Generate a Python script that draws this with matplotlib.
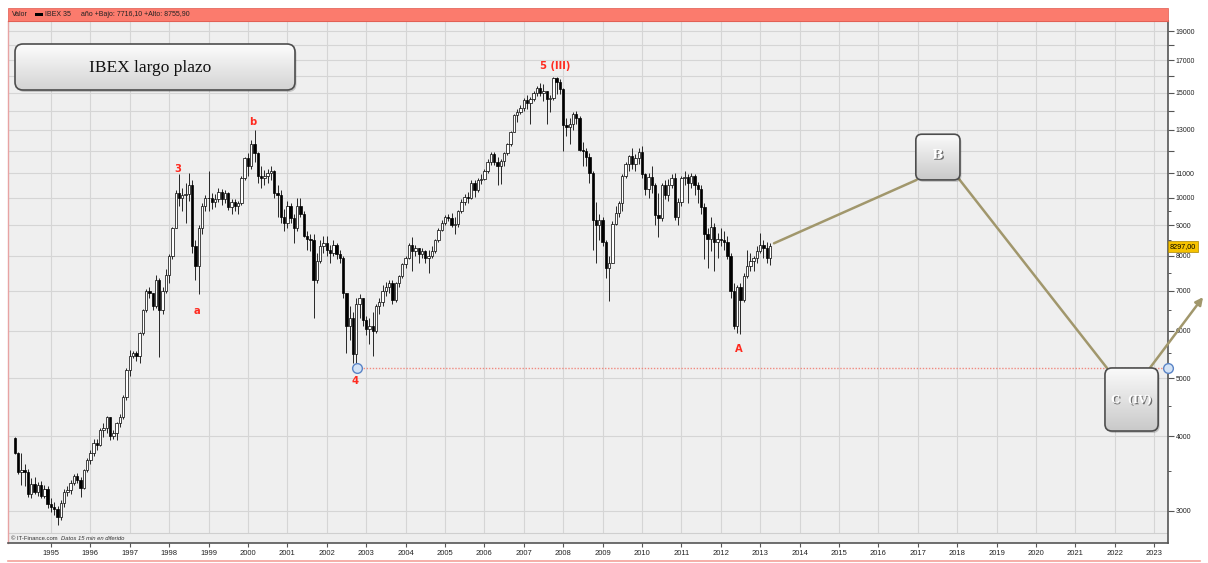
import numpy as np
import pandas as pd
import matplotlib
matplotlib.use('Agg')
import matplotlib.pyplot as plt
import matplotlib.ticker as mticker
import matplotlib.transforms as mtransforms
import matplotlib.patheffects as pe
from matplotlib.patches import FancyBboxPatch, Rectangle
from matplotlib.colors import LinearSegmentedColormap

# IBEX 35 monthly candles, Feb 1994 - Apr 2013
first_open = 3970
closes = [
    3750, 3490, 3510, 3490, 3200, 3330, 3230, 3310, 3180, 3270, 3080,            # 1994 (Feb-Dec)
    3050, 3020, 2930, 3090, 3230, 3250, 3340, 3430, 3380, 3280, 3510, 3650,      # 1995
    3750, 3900, 3860, 4100, 4120, 4300, 4000, 4050, 4200, 4300, 4650, 5150,      # 1996
    5450, 5500, 5450, 5950, 6500, 7000, 6950, 6600, 7300, 6500, 7000, 7450,      # 1997
    8000, 8900, 10200, 10000, 10100, 10150, 10500, 8300, 7700, 8900, 9700, 10000,  # 1998
    10000, 9850, 9950, 10250, 9950, 10200, 9650, 9850, 9700, 9800, 10800, 11650,   # 1999
    11300, 12300, 11900, 10900, 10800, 10900, 11000, 11100, 10200, 10100, 9300, 9100,  # 2000
    9700, 9250, 8900, 9700, 9400, 8650, 8550, 8500, 7300, 7850, 8300, 8400,      # 2001
    8200, 8100, 8350, 8050, 7950, 6950, 6100, 6300, 5480, 6650, 6800, 6250,      # 2002
    6050, 6100, 6000, 6600, 6700, 7000, 7100, 7200, 6750, 7200, 7400, 7750,      # 2003
    7950, 8350, 8150, 8250, 8050, 8150, 7950, 8000, 8150, 8500, 8850, 9100,      # 2004
    9300, 9250, 9000, 9050, 9500, 9850, 10050, 10000, 10600, 10300, 10700, 10750,  # 2005
    11100, 11500, 11850, 11500, 11300, 11550, 11900, 12300, 12900, 13750, 13900, 14150,  # 2006
    14600, 14400, 14650, 14950, 15250, 15000, 15100, 14650, 14700, 15850, 15650, 15200,  # 2007
    13250, 13150, 13300, 13800, 13600, 12050, 12000, 11700, 11000, 9200, 9000, 9200,   # 2008
    8450, 7650, 7800, 9050, 9450, 9800, 10900, 11400, 11750, 11400, 11650, 11950,     # 2009
    10950, 10350, 10850, 10500, 9350, 9250, 10500, 10100, 10500, 10800, 9300, 9850,   # 2010
    10800, 10850, 10600, 10900, 10500, 10350, 9650, 8700, 8550, 8950, 8450, 8550,     # 2011
    8500, 8450, 8000, 7000, 6100, 7100, 6750, 7400, 7700, 7850, 7950, 8150,          # 2012
    8350, 8250, 7950, 8300,                                                          # 2013
]
highs = [
    3990, 3770, 3750, 3600, 3530, 3400, 3420, 3350, 3360, 3320, 3300,
    3150, 3100, 3060, 3130, 3260, 3300, 3380, 3460, 3470, 3420, 3520, 3680,
    3800, 3950, 3950, 4120, 4200, 4320, 4300, 4100, 4230, 4350, 4680, 5200,
    5570, 5560, 5550, 5970, 6520, 7050, 7100, 6850, 7450, 7350, 7100, 7600,
    8050, 8950, 10300, 10950, 10400, 10600, 11000, 10700, 8500, 9000, 9800, 10100,
    11100, 10200, 10150, 10400, 10350, 10300, 10250, 9950, 9950, 9900, 10900, 11700,
    11900, 12500, 12990, 11950, 11300, 11150, 11200, 11300, 11150, 10500, 10300, 9600,
    9900, 9800, 9400, 10000, 10000, 9500, 8800, 8700, 8700, 8100, 8500, 8650,
    8650, 8350, 8500, 8400, 8200, 8000, 6950, 6600, 6450, 6800, 6900, 6800,
    6350, 6300, 6450, 6650, 6800, 7150, 7250, 7300, 7300, 7250, 7450, 7800,
    8000, 8400, 8600, 8350, 8250, 8250, 8200, 8200, 8300, 8550, 8900, 9200,
    9350, 9400, 9450, 9300, 9550, 9950, 10150, 10250, 10700, 10700, 10800, 10950,
    11200, 11600, 11950, 11950, 11700, 11600, 11950, 12350, 12950, 13800, 14100, 14300,
    14700, 14850, 14750, 15100, 15400, 15550, 15500, 15100, 14850, 15900, 15950, 15800,
    15250, 13600, 13600, 13900, 14000, 13700, 12400, 12100, 11900, 11100, 9850, 9400,
    9300, 8500, 8000, 9150, 9700, 9900, 10950, 11500, 11800, 12100, 11850, 12100,
    12200, 11000, 11000, 11300, 10600, 10200, 10600, 10700, 10750, 10950, 11000, 10000,
    10900, 11100, 10950, 11000, 10950, 10650, 10500, 9800, 8900, 9300, 9100, 8750,
    8900, 8800, 8650, 8100, 7200, 7150, 7200, 7500, 8200, 8100, 8000, 8300,
    8750, 8500, 8450, 8400,
]
lows = [
    3740, 3460, 3310, 3300, 3170, 3150, 3200, 3180, 3150, 3150, 3040,
    2990, 2950, 2840, 2900, 3050, 3180, 3200, 3320, 3340, 3160, 3260, 3480,
    3600, 3700, 3800, 3850, 3980, 4050, 3940, 3950, 3940, 4150, 4280, 4600,
    5050, 5400, 5350, 5300, 5900, 6450, 6800, 6500, 6550, 5420, 6400, 6950,
    7200, 7900, 8900, 9700, 9500, 9100, 9900, 8100, 7300, 6900, 8700, 9500,
    9500, 9600, 9650, 9850, 9750, 9800, 9550, 9400, 9500, 9400, 9750, 10700,
    10900, 11200, 11500, 10600, 10400, 10500, 10600, 10700, 10000, 9300, 9100, 8800,
    8900, 9100, 8400, 8800, 9300, 8600, 8200, 8150, 6300, 7200, 7800, 8100,
    8000, 7800, 8000, 7900, 7800, 6800, 5500, 5800, 5300, 5250, 6300, 6100,
    5900, 5700, 5450, 5950, 6400, 6600, 6850, 6950, 6650, 6700, 7100, 7350,
    7650, 7900, 7550, 8000, 7800, 7950, 7800, 7500, 7950, 8100, 8450, 8800,
    9000, 9150, 8950, 8700, 8950, 9450, 9750, 9800, 9950, 10050, 10250, 10550,
    10700, 11000, 11350, 11350, 10500, 10550, 11300, 11800, 12200, 12900, 13400, 13800,
    14000, 14100, 13300, 14500, 14800, 14800, 14500, 13300, 13900, 14600, 14900, 14900,
    12000, 12700, 12300, 13000, 13300, 12000, 11300, 11300, 10600, 8200, 7800, 8500,
    8300, 7350, 6720, 7800, 9000, 9300, 9500, 10800, 11100, 11200, 11100, 11400,
    10800, 10100, 10000, 10200, 9000, 8600, 9150, 9950, 9900, 10400, 9200, 9000,
    9700, 10500, 9800, 10400, 10100, 9800, 9400, 7900, 7650, 8150, 7550, 7950,
    8300, 8200, 7900, 6800, 6050, 5950, 5930, 6700, 7350, 7550, 7550, 7800,
    8100, 7950, 7800, 7716,
]

# Elliott wave labels and projection
wave_labels = [('3', 1998.22, 11180), ('b', 2000.13, 13400), ('a', 1998.71, 6480),
               ('4', 2002.72, 4950), ('5 (III)', 2007.79, 16600), ('A', 2012.46, 5590)]
support_level = 5200
support_from = 2002.77
projection_x = [2013.35, 2016.97]
projection_y = [8400, 10720]
leg_c_x = [2018.05, 2021.80]
leg_c_y = [10750, 5200]
arrow_from = (2022.89, 5200)
arrow_to = (2024.24, 6830)
box_b = (2016.95, 10720, 2018.07, 12780)
box_c = (2021.75, 4080, 2023.10, 5200)
last_price = 8297

y_ticks = list(range(3000, 20000, 1000))
y_labeled = [3000, 4000, 5000, 6000, 7000, 8000, 9000, 10000, 11000, 13000, 15000, 17000, 19000]
years = list(range(1995, 2024))

W, H = 1208, 563
khaki = '#a1976c'

closes = np.array(closes, float)
highs = np.array(highs, float)
lows = np.array(lows, float)
opens = np.concatenate([[first_open], closes[:-1]])
highs = np.maximum(highs, np.maximum(opens, closes))
lows = np.minimum(lows, np.minimum(opens, closes))
months = pd.date_range('1994-02-01', periods=len(closes), freq='MS')
xs = months.year + (months.month - 1) / 12

fig = plt.figure(figsize=(W / 100, H / 100), dpi=100)
fig.patch.set_facecolor('white')
ax = fig.add_axes([8 / W, 20 / H, 1160 / W, 522 / H])
ax.set_facecolor('#efefef')
ax.set_yscale('log')
ax.set_xlim(1993.91, 2023.35)
ax.set_ylim(2652, 19756)

# candles
up = closes >= opens
ax.vlines(xs, lows, highs, color='#262626', lw=0.7, zorder=2.5)
body_h = np.maximum(np.abs(closes - opens), 15)
ax.bar(xs, body_h, bottom=np.minimum(opens, closes), width=0.06,
       color=np.where(up, 'white', 'black'), edgecolor='black', linewidth=0.5, zorder=3)

# axes styling
ax.yaxis.set_major_locator(mticker.FixedLocator(y_ticks))
ax.yaxis.set_major_formatter(mticker.FuncFormatter(lambda v, p: str(int(round(v))) if int(round(v)) in y_labeled else ''))
ax.yaxis.set_minor_locator(mticker.FixedLocator(list(range(3500, 10000, 1000))))
ax.yaxis.set_minor_formatter(mticker.NullFormatter())
ax.yaxis.tick_right()
ax.tick_params(axis='y', which='major', direction='out', length=4, width=0.8, color='#555555',
               labelsize=5.0, pad=1.5, labelfontfamily='Liberation Sans', labelcolor='#222222')
ax.tick_params(axis='y', which='minor', direction='out', length=2.5, width=0.7, color='#555555')
ax.set_xticks(years)
ax.set_xticklabels([str(y) for y in years])
ax.tick_params(axis='x', direction='out', length=3, width=0.8, color='#555555',
               labelsize=5.5, pad=2, labelfontfamily='Liberation Sans', labelcolor='#222222')
ax.grid(True, which='major', color='#d5d5d5', lw=0.8)
ax.set_axisbelow(True)
for side, col, lw in [('right', '#555555', 1.2), ('bottom', '#555555', 1.2),
                      ('left', '#e7a3a3', 1.0), ('top', '#d86a60', 0.8)]:
    ax.spines[side].set_color(col)
    ax.spines[side].set_linewidth(lw)

# copyright strip
ax.add_patch(Rectangle((0, 0), 1, 10 / 522, transform=ax.transAxes, fc='#eeeeee', ec='none', zorder=1.6))
ax.plot([0, 1], [10 / 522] * 2, transform=ax.transAxes, color='#cfcfcf', lw=0.8, zorder=1.7)
ax.text(3 / 1160, 5 / 522, '© IT-Finance.com', transform=ax.transAxes, fontsize=4.2,
        family='Liberation Sans', va='center', color='#333333', zorder=2)
ax.text(53 / 1160, 5 / 522, 'Datos 15 min en diferido', transform=ax.transAxes, fontsize=4.2,
        family='Liberation Sans', style='italic', va='center', color='#333333', zorder=2)

# support line and markers
ax.plot([support_from, ax.get_xlim()[1]], [support_level] * 2, color='#ef8a80', lw=1.0,
        ls=(0, (1, 1.2)), zorder=3.5)
ax.plot([support_from, ax.get_xlim()[1]], [support_level] * 2, 'o', ms=7, mfc='#d3e2f5',
        mec='#5a84c6', mew=1.0, clip_on=False, zorder=7)

# wave labels
for txt, x, y in wave_labels:
    ax.text(x, y, txt, color='#ff2a1f', fontsize=7.2, fontweight='bold', ha='center', va='center', zorder=6)

# projection
ax.plot(projection_x, projection_y, color=khaki, lw=1.8, zorder=4, solid_capstyle='round')
ax.plot(leg_c_x, leg_c_y, color=khaki, lw=1.8, zorder=4, solid_capstyle='round')
ax.annotate('', xy=arrow_to, xytext=arrow_from, annotation_clip=False, zorder=4,
            arrowprops=dict(arrowstyle='-|>', color=khaki, lw=1.8, mutation_scale=11, shrinkA=0, shrinkB=0))

# last price tag
trans = mtransforms.blended_transform_factory(ax.transAxes, ax.transData)
ax.text(1.0015, last_price, '8297,00', transform=trans, fontsize=5.2, family='Liberation Sans',
        va='center', ha='left', clip_on=False, zorder=8,
        bbox=dict(boxstyle='square,pad=0.25', fc='#f6c200', ec='#a98500', lw=0.5))

# header band
fig.patches.append(Rectangle((8 / W, (H - 21) / H), 1160 / W, 13 / H, transform=fig.transFigure,
                             fc='#fb7b6d', ec='#e0594e', lw=0.5))
hy = (H - 15) / H
fig.text(12 / W, hy, 'Valor', fontsize=5, family='Liberation Sans', va='center', color='#222222')
fig.patches.append(Rectangle((35 / W, (H - 16) / H), 8 / W, 2.5 / H, transform=fig.transFigure,
                             fc='black', ec='none'))
fig.text(45 / W, hy, 'IBEX 35', fontsize=5, family='Liberation Sans', va='center', color='#222222')
fig.text(81 / W, hy, 'año +Bajo: 7716,10 +Alto: 8755,90', fontsize=5, family='Liberation Sans',
         va='center', color='#222222')
fig.add_artist(plt.Line2D([8 / W, 1200 / W], [2 / H, 2 / H], transform=fig.transFigure,
                          color='#f3a19a', lw=1.2))

# overlay in pixel coordinates for the rounded gradient boxes
ov = fig.add_axes([0, 0, 1, 1], zorder=5)
ov.patch.set_alpha(0)
ov.axis('off')


def grad_box(x0, y0, x1, y1, r, top='#fbfbfb', bot='#c9c9c9'):
    w, h = x1 - x0, y1 - y0
    shadow = FancyBboxPatch((x0 + r + 1.5, y0 + r - 2), w - 2 * r, h - 2 * r,
                            boxstyle=f'round,pad={r}', fc='#000000', alpha=0.18, ec='none', zorder=1)
    ov.add_patch(shadow)
    patch = FancyBboxPatch((x0 + r, y0 + r), w - 2 * r, h - 2 * r, boxstyle=f'round,pad={r}',
                           fc='none', ec='#4d4d4d', lw=1.2, zorder=3)
    ov.add_patch(patch)
    cmap = LinearSegmentedColormap.from_list('g', [bot, top])
    im = ov.imshow(np.linspace(0, 1, 256).reshape(-1, 1), extent=(x0, x1, y0, y1), origin='lower',
                   cmap=cmap, aspect='auto', zorder=2, interpolation='bicubic')
    im.set_clip_path(patch)


def px(x, y):
    return ax.transData.transform((x, y))


grad_box(15, H - 90, 295, H - 44, 8, top='#fdfdfd', bot='#d3d3d3')
ov.text(150, H - 68, 'IBEX largo plazo', family='Liberation Serif', fontsize=12.5,
        ha='center', va='center', color='#111111', zorder=4)

box_text = [pe.withSimplePatchShadow(offset=(0.9, -0.9), shadow_rgbFace='#5a5a5a', alpha=0.85)]

bx0, by0 = px(box_b[0], box_b[1])
bx1, by1 = px(box_b[2], box_b[3])
grad_box(bx0, by0, bx1, by1, 6)
ov.text((bx0 + bx1) / 2, (by0 + by1) / 2 + 2, 'B', family='DejaVu Serif', fontsize=9.5, fontweight='bold',
        color='white', ha='center', va='center', zorder=4, path_effects=box_text)

cx0, cy0 = px(box_c[0], box_c[1])
cx1, cy1 = px(box_c[2], box_c[3])
grad_box(cx0, cy0, cx1, cy1, 7)
ov.text((cx0 + cx1) / 2, (cy0 + cy1) / 2, 'C  (IV)', family='DejaVu Serif', fontsize=8, fontweight='bold',
        color='white', ha='center', va='center', zorder=4, path_effects=box_text)

ov.set_xlim(0, W)
ov.set_ylim(0, H)

fig.savefig('out.png', dpi=100)
